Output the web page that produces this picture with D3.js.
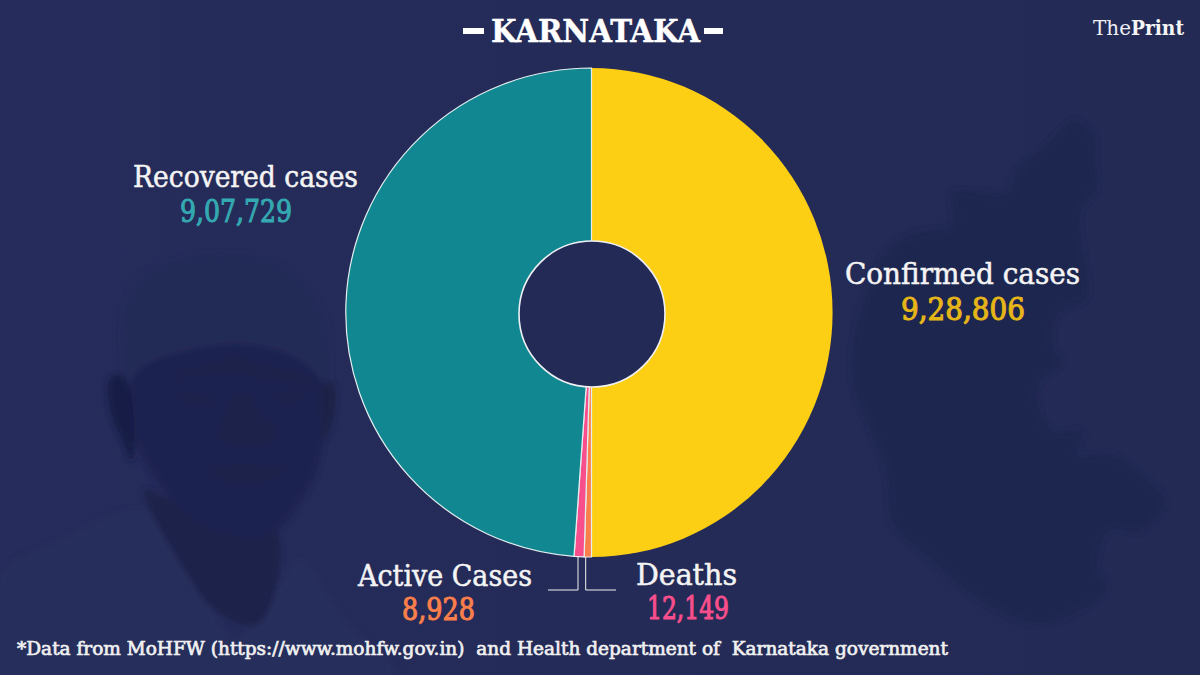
<!DOCTYPE html>
<html>
<head>
<meta charset="utf-8">
<script src="https://cdn.jsdelivr.net/npm/d3@7"></script>
<style>
  html, body { margin: 0; padding: 0; background: #232a55; }
  svg { display: block; }
  text { font-family: "DejaVu Serif Condensed", "DejaVu Serif", serif; white-space: pre; }
</style>
</head>
<body>
<div id="chart"></div>
<script>
const categories = ["Confirmed cases", "Active Cases", "Deaths", "Recovered cases"];
const values = [928806, 8928, 12149, 907729];
const valueLabels = ["9,28,806", "8,928", "12,149", "9,07,729"];
const sliceColors = ["#fdcf14", "#fb7f4b", "#f84f8c", "#108791"];
const valueColors = ["#e6b618", "#fb7f4b", "#f84f8c", "#34a9b1"];

const width = 1200, height = 675;
const cx = 591.5, cy = 312.5, outerR = 244.5;

const svg = d3.select("#chart").append("svg")
    .attr("width", width)
    .attr("height", height);

const defs = svg.append("defs");
const bg = defs.append("linearGradient").attr("id", "bg");
bg.append("stop").attr("offset", "0").attr("stop-color", "#262c5b");
bg.append("stop").attr("offset", "1").attr("stop-color", "#232a54");
defs.append("filter").attr("id", "soft").append("feGaussianBlur").attr("stdDeviation", 3);

svg.append("rect").attr("width", width).attr("height", height).attr("fill", "url(#bg)");

// faint background pictures, not part of the data: state map and portrait
const closed = d3.line().curve(d3.curveCatmullRomClosed.alpha(0.5));
const mapShape = [[1073,121],[1093,134],[1095,162],[1097,186],[1080,214],[1083,252],[1087,297],[1057,314],[1053,348],[1062,362],[1040,382],[1037,403],[1053,431],[1083,431],[1077,455],[1113,455],[1150,483],[1165,500],[1140,532],[1110,530],[1097,565],[1107,589],[1080,610],[1037,624],[980,600],[930,558],[893,524],[887,475],[870,428],[853,382],[857,324],[887,252],[913,234],[953,224],[953,193],[1007,193],[1017,172],[1047,144]];
const shirtShape = [[0,575],[60,540],[130,510],[170,520],[200,580],[235,640],[275,590],[300,560],[345,620],[395,675],[0,675]];
const neckShape = [[145,490],[220,530],[275,530],[275,590],[255,625],[215,610],[185,570]];
const headShape = [[123,345],[133,287],[187,257],[260,258],[310,290],[328,337],[322,390],[135,390]];
const faceShape = [[135,375],[190,350],[250,345],[300,360],[322,385],[325,430],[317,470],[300,503],[273,533],[230,535],[180,510],[150,470],[132,430]];
const earL = [[110,378],[122,375],[132,400],[132,462],[122,440],[110,410]];
const earR = [[322,385],[333,383],[335,410],[325,440]];
const features = [[[170,380],[205,365],[240,358],[255,365],[300,372],[318,385],[255,376],[205,374]],
  [[180,394],[205,396],[215,402],[192,403]],[[272,396],[300,392],[308,396],[285,402]],
  [[222,425],[235,395],[250,395],[262,420],[276,425],[268,442],[230,444],[218,438]],
  [[210,470],[240,464],[285,470],[268,480],[230,482]]];
const pictureShapes = [
  {pts: mapShape, fill: "#1f2650"},
  {pts: shirtShape, fill: "#262d5c"},
  {pts: headShape, fill: "#232a57"},
  {pts: neckShape, fill: "#1a2049"},
  {pts: faceShape, fill: "#1e2450"},
  {pts: earL, fill: "#181e45"},
  {pts: earR, fill: "#1a2047"}
].concat(features.map(f => ({pts: f, fill: "#1a2049"})));
svg.append("g").attr("filter", "url(#soft)")
  .selectAll("path").data(pictureShapes)
  .enter().append("path")
    .attr("d", d => closed(d.pts))
    .attr("fill", d => d.fill);

// pie: yellow half is a touch narrower in the picture than the rest
const pie = d3.pie().sort(null).value(d => d);
const arc = d3.arc().innerRadius(0).outerRadius(outerR);
const xStretch = [0.986, 1, 1, 1.005];

const g = svg.append("g").attr("transform", `translate(${cx},${cy})`);
g.selectAll("path")
    .data(pie(values))
  .enter().append("path")
    .attr("d", arc)
    .attr("transform", (d, i) => `scale(${xStretch[i]},1)`)
    .attr("fill", (d, i) => sliceColors[i])
    .attr("stroke", (d, i) => i == 0 ? "none" : "#e4eef0")
    .attr("stroke-width", 1.2);

// hole
svg.append("circle")
    .attr("cx", 592).attr("cy", 314).attr("r", 73)
    .attr("fill", "#232a55")
    .attr("stroke", "#eef0f4")
    .attr("stroke-width", 1.6);

// text stretched to the span it has in the picture
function label(x0, x1, y, str, size, fill, weight, stroke) {
  return svg.append("text")
      .attr("x", x0).attr("y", y)
      .attr("textLength", x1 - x0)
      .attr("lengthAdjust", "spacingAndGlyphs")
      .attr("font-size", size)
      .attr("font-weight", weight || "normal")
      .attr("fill", fill)
      .attr("stroke", stroke ? fill : "none")
      .attr("stroke-width", stroke || 0)
      .text(str);
}

// title
label(491, 700, 42, "KARNATAKA", 32, "#fff", "bold", 0.4);
svg.append("rect").attr("x", 463).attr("y", 28).attr("width", 21).attr("height", 6).attr("fill", "#fff");
svg.append("rect").attr("x", 704).attr("y", 28).attr("width", 19).attr("height", 6).attr("fill", "#fff");

// logo
label(1093, 1131, 35, "The", 21, "#eef0f4");
label(1131, 1184, 35, "Print", 21, "#f5f5f5", "bold");

// slice labels, same order as categories
const nameSpans = [[845, 1080, 284], [358, 532, 586], [636, 737, 585], [133, 358, 187]];
const valueSpans = [[901, 1025, 320], [402, 475, 620], [647, 729, 619], [180, 292, 222]];
categories.forEach((c, i) => {
  const n = nameSpans[i], v = valueSpans[i];
  label(n[0], n[1], n[2], c, 30, "#f4f4f4", "normal", 0.5);
  label(v[0], v[1], v[2], valueLabels[i], 31, valueColors[i], "normal", 1);
});

// leader lines
const leaders = [[[578, 557], [578, 590], [548, 590]], [[585.7, 557], [585.7, 590], [616, 590]]];
const leaderLine = d3.line();
svg.selectAll(".leader").data(leaders).enter().append("path")
    .attr("class", "leader")
    .attr("d", leaderLine)
    .attr("fill", "none").attr("stroke", "#f0f0f0").attr("stroke-width", 1);

// source note
label(17, 948, 655, "*Data from MoHFW (https://www.mohfw.gov.in)  and Health department of  Karnataka government", 18.5, "#f0f0f0", "normal", 0.65);
</script>
</body>
</html>
